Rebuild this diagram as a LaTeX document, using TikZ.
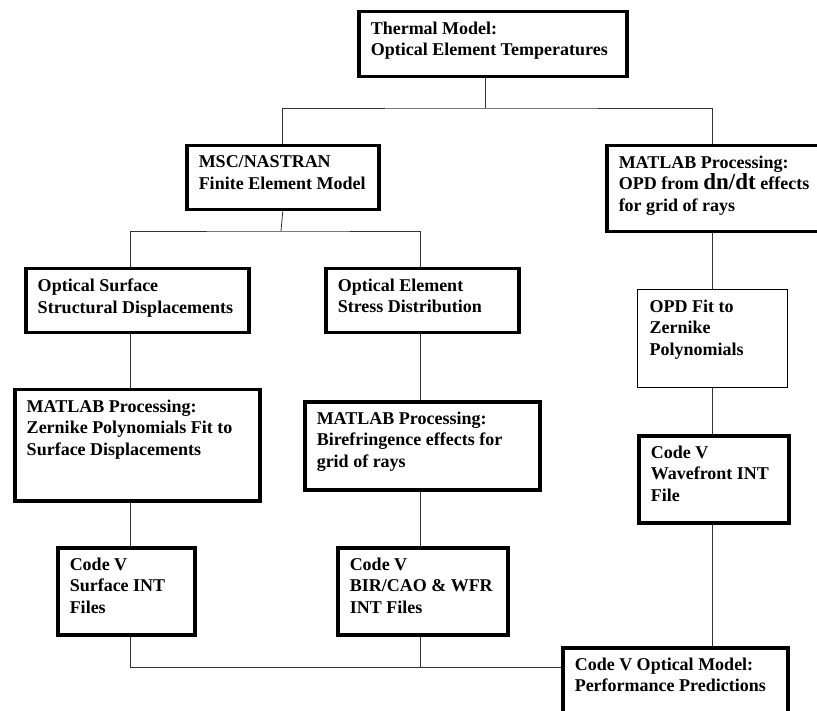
\documentclass[tikz,border=0pt]{standalone}
\usepackage{fontspec}
\setmainfont{Liberation Serif}
\usetikzlibrary{positioning}

% box contents: width, height, text (top left)
\newcommand{\blocktext}[3]{\parbox[c][#2pt][t]{#1pt}{\vspace{10pt}\raggedright\leftskip=12pt\relax #3}}

\begin{document}
\begin{tikzpicture}[
		x=1pt, y=-1pt,
		block/.style={
			draw, line width=3.5pt, rectangle, anchor=north west, inner sep=0pt,
			font=\fontsize{18}{21.7}\selectfont\bfseries
		},
		thinblock/.style={
			block, line width=1.2pt
		},
		link/.style={
			draw, line width=0.8pt, black!80
		}
		]
		\useasboundingbox (0,0) rectangle (817,711);
		
		% junctions of the connectors
		\coordinate (jtop) at (485,108);
		\coordinate (jmid) at (281,231);
		\coordinate (jbot) at (130,667);
		\coordinate (colB) at (420,0);
		\coordinate (colC) at (712,0);
		
		\node[block] (thermal) at (357,10) {\blocktext{268}{65}{Thermal Model:\\Optical Element Temperatures}};
		\node[block] (msc) at (185,144) {\blocktext{192}{64}{MSC/NASTRAN\\Finite Element Model}};
		\node[block] (opd) at (605,144) {\blocktext{223}{86}{MATLAB Processing:\\OPD from {\fontsize{23}{21.7}\selectfont dn/dt} effects\\for grid of rays}};
		
		\node[block] (surf) at (24,267) {\blocktext{223}{64}{Optical Surface\\Structural Displacements}};
		\node[block] (stress) at (324,267) {\blocktext{193}{64}{Optical Element\\Stress Distribution}};
		\node[thinblock] (fitopd) at (637,289) {\blocktext{150}{98}{OPD Fit to\\Zernike\\Polynomials}};
		
		\node[block] (zern) at (13,388) {\blocktext{245}{111}{MATLAB Processing:\\Zernike Polynomials Fit to\\Surface Displacements}};
		\node[block] (biref) at (303,400) {\blocktext{235}{88}{MATLAB Processing:\\Birefringence effects for\\grid of rays}};
		\node[block] (wave) at (637,434) {\blocktext{150}{87}{Code V\\Wavefront INT\\File}};
		
		\node[block] (surfint) at (56,546) {\blocktext{137}{87}{Code V\\Surface INT\\Files}};
		\node[block] (birint) at (336,546) {\blocktext{170}{87}{Code V\\BIR/CAO \& WFR\\INT Files}};
		\node[block] (perf) at (561,646) {\blocktext{225}{80}{Code V Optical Model:\\Performance Predictions}};
		
		\draw[link] (thermal.south -| jtop) -- (jtop);
		\draw[link] (msc.north) |- (jtop) -| (opd.north -| colC);
		\draw[link] (msc.south) -- (jmid);
		\draw[link] (surf.north -| jbot) |- (jmid) -| (stress.north -| colB);
		
		% left column
		\draw[link] (surf.south -| jbot) -- (zern.north -| jbot);
		\draw[link] (zern.south -| jbot) -- (surfint.north -| jbot);
		\draw[link] (surfint.south -| jbot) -- (jbot) -- (jbot -| perf.west);
		
		% middle column
		\draw[link] (stress.south -| colB) -- (biref.north -| colB);
		\draw[link] (biref.south -| colB) -- (birint.north -| colB);
		\draw[link] (birint.south -| colB) -- (colB |- jbot);
		
		% right column
		\draw[link] (opd.south -| colC) -- (fitopd.north -| colC);
		\draw[link] (fitopd.south -| colC) -- (wave.north -| colC);
		\draw[link] (wave.south -| colC) -- (perf.north -| colC);
	\end{tikzpicture}
\end{document}
